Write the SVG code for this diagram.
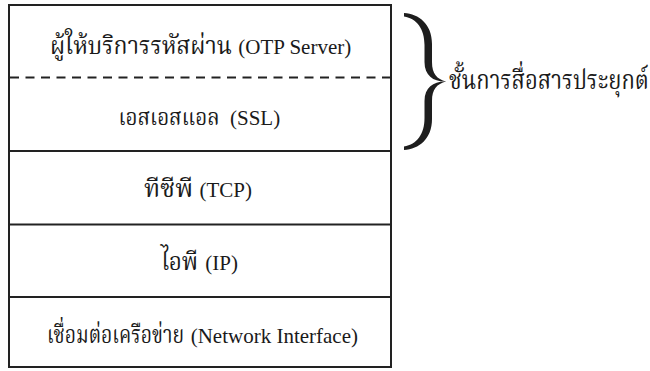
<svg xmlns="http://www.w3.org/2000/svg" width="650" height="371" viewBox="0 0 650 371">
  <style>
    .frame { fill: #ffffff; stroke: #222222; stroke-width: 2; }
    .sep { stroke: #222222; stroke-width: 2; fill: none; }
    .dash { stroke: #222222; stroke-width: 2; fill: none; stroke-dasharray: 9 6.5; }
    .lbl { font-family: "Liberation Serif", "Noto Serif Thai", "Noto Sans Thai", serif; fill: #1a1a1a; }
    .th { font-size: 25px; }
    .en { font-size: 21px; }
    .side { font-family: "Liberation Serif", "Noto Serif Thai", "Noto Sans Thai", serif; font-size: 22px; fill: #1a1a1a; }
    .brace { fill: #1e1e1e; }
  </style>
  <rect width="650" height="371" fill="#ffffff"/>

  <!-- protocol stack frame -->
  <g id="stack">
    <rect class="frame" x="9" y="5" width="382" height="362"/>
  </g>

  <!-- layer dividers -->
  <g id="dividers">
    <line class="dash" x1="10" y1="77.5" x2="390" y2="77.5"/>
    <line class="sep" x1="9" y1="151" x2="391" y2="151"/>
    <line class="sep" x1="9" y1="224.5" x2="391" y2="224.5"/>
    <line class="sep" x1="9" y1="297" x2="391" y2="297"/>
  </g>

  <!-- each label: Thai name, then the English name in brackets -->
  <g id="otp-server">
    <text class="lbl" y="54"><tspan class="th" x="50" textLength="182" lengthAdjust="spacingAndGlyphs">ผู้ให้บริการรหัสผ่าน</tspan><tspan class="en" x="238.3">(OTP Server)</tspan></text>
  </g>
  <g id="ssl">
    <text class="lbl" y="125"><tspan class="th" x="118.5" textLength="101" lengthAdjust="spacingAndGlyphs" style="font-size:23.5px">เอสเอสแอล</tspan><tspan class="en" x="230">(SSL)</tspan></text>
  </g>
  <g id="tcp">
    <text class="lbl" y="197"><tspan class="th" x="144" textLength="49" lengthAdjust="spacingAndGlyphs">ทีซีพี</tspan><tspan class="en" x="199.5">(TCP)</tspan></text>
  </g>
  <g id="ip">
    <text class="lbl" y="270"><tspan class="th" x="161" textLength="37" lengthAdjust="spacingAndGlyphs">ไอพี</tspan><tspan class="en" x="205.3">(IP)</tspan></text>
  </g>
  <g id="network-interface">
    <text class="lbl th" transform="translate(47,343) scale(1,1.15)" x="0" y="0" textLength="137" lengthAdjust="spacingAndGlyphs" style="font-size:21.5px">เชื่อมต่อเครือข่าย</text>
    <text class="lbl en" x="190.7" y="343">(Network Interface)</text>
  </g>

  <!-- curly brace grouping the top two layers -->
  <g id="application-layer">
    <path class="brace" d="M404,13 C419,14 432,24 432,44 L432,62 C432,74 437,79 446,81.5
      C434,82 424.5,76 424.5,62 L424.5,45 C424.5,29 417,18.5 404,16.5 Z"/>
    <path class="brace" d="M404,150 C419,149 432,139 432,119 L432,101 C432,89 437,84 446,81.5
      C434,81 424.5,87 424.5,101 L424.5,118 C424.5,134 417,144.5 404,146.5 Z"/>
    <text class="side" transform="translate(449,89) scale(1,1.2)" x="0" y="0">ชั้นการสื่อสารประยุกต์</text>
  </g>
</svg>
